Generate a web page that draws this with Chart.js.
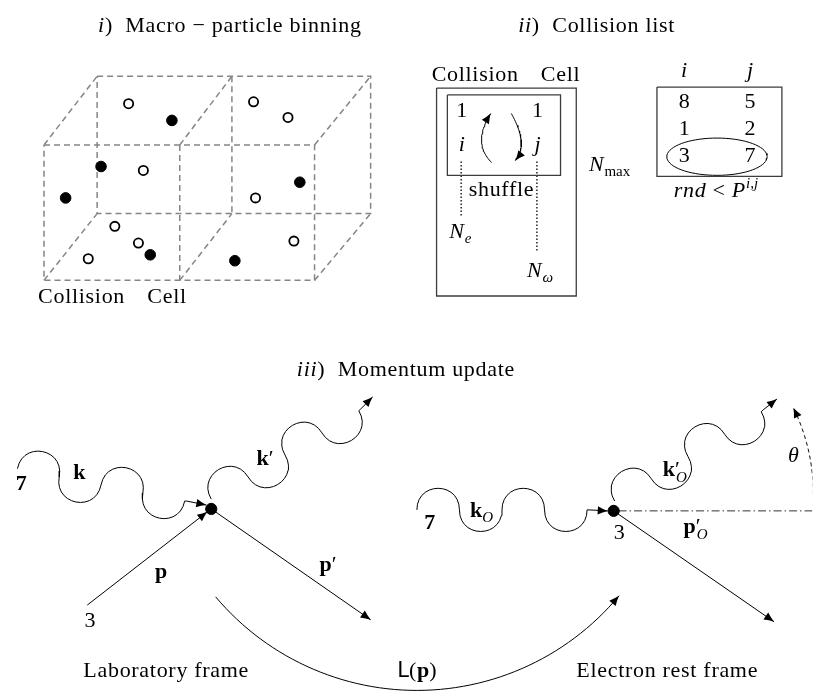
<!DOCTYPE html>
<html>
<head>
<meta charset="utf-8">
<script src="https://cdn.jsdelivr.net/npm/chart.js@4.4.0/dist/chart.umd.min.js"></script>
<style>
  html, body { margin: 0; padding: 0; background: #fff; }
  #wrap { width: 819px; height: 698px; }
</style>
</head>
<body>
<div id="wrap"><canvas id="diagram"></canvas></div>
<script>
// ---- panel i: macro-particle binning (cube of collision cells) ----
const cubeEdges = [
  [[38, 141], [313, 141], [313, 279], [38, 279], [38, 141]],
  [[176, 141], [176, 279]],
  [[92, 71], [370, 71], [370, 211], [92, 211], [92, 71]],
  [[229, 71], [229, 211]],
  [[38, 141], [92, 71]],
  [[176, 141], [229, 71]],
  [[313, 141], [370, 71]],
  [[38, 279], [92, 211]],
  [[176, 279], [229, 211]],
  [[313, 279], [370, 211]],
];
const openParticles = [[124, 99], [251, 97], [286, 113], [139, 167], [253, 195], [110, 224], [134, 241], [83, 257], [292, 239]];
const filledParticles = [[168, 116], [96, 163], [60, 195], [298, 179], [146, 253], [232, 259]];

// ---- panel ii: collision list ----
const cellBoxes = [
  [[437, 83], [579, 83], [579, 295], [437, 295], [437, 83]],
  [[448, 90], [563, 90], [563, 172], [448, 172], [448, 90]],
  [[661, 82], [788, 82], [788, 173], [661, 173], [661, 82]],
];
const indexLines = [
  [[462, 158], [462, 213]],
  [[539, 158], [539, 250]],
];
// quadratic curves: start, control, end (arrow at end)
const shuffleArrows = [
  [[493, 159], [473, 139], [492, 109]],
  [[513, 109], [531, 141], [517, 157]],
];
const pairEllipse = { centre: [722, 153], rx: 51, ry: 19 };
const listI = ["8", "1", "3"];
const listJ = ["5", "2", "7"];

// ---- panel iii: momentum update ----
const vertices = [[208, 512], [617, 514]];
const electronLines = [
  [[82, 610], [204, 515]],
  [[208, 512], [370, 625]],
  [[617, 514], [780, 627]],
];
const photonWaves = [
  { from: [11, 471], to: [181, 504], cycles: 2, amp: 22, tail: [[183, 504], [203, 508]] },
  { from: [208, 502], to: [358, 412], cycles: 2, amp: 22, tail: [[360, 410], [372, 398]] },
  { from: [417, 513], to: [590, 513], cycles: 2, amp: 22, tail: [[592, 513], [611, 514]] },
  { from: [618, 504], to: [767, 413], cycles: 2, amp: 22, tail: [[769, 411], [783, 400]] },
];
const restAxis = [[622, 514], [819, 514]];
// circular arcs: centre, radius, start angle, end angle (degrees, arrow at end)
const boostArc = { centre: [417, 430], r: 267, from: 140, to: 39.7 };
const thetaArc = { centre: [619, 497], r: 201, from: 0, to: -26 };

// ---- texts: x, baseline y, align, runs ----
const labels = [
  [93, 26, "left", [["i", "it"], [")  Macro − particle binning", "rm"]]],
  [32, 302, "left", [["Collision", "rm"]]],
  [143, 302, "left", [["Cell", "rm"]]],
  [520, 26, "left", [["ii", "it"], [")  Collision list", "rm"]]],
  [432, 76, "left", [["Collision", "rm"]]],
  [543, 76, "left", [["Cell", "rm"]]],
  [463, 113, "center", [["1", "rm"]]],
  [540, 113, "center", [["1", "rm"]]],
  [463, 147, "center", [["i", "it"]]],
  [540, 147, "center", [["j", "it"]]],
  [503, 193, "center", [["shuffle", "rm"]]],
  [450, 236, "left", [["N", "it"], ["e", "subit"]]],
  [529, 276, "left", [["N", "it"], ["ω", "subit"]]],
  [592, 168, "left", [["N", "it"], ["max", "sub"]]],
  [689, 72, "center", [["i", "it"]]],
  [756, 72, "center", [["j", "it"]]],
  [678, 194, "left", [["rnd", "it"], [" < ", "rm"], ["P", "it"], ["i,j", "supit"]]],
  [295, 377, "left", [["iii", "it"], [")  Momentum update", "rm"]]],
  [15, 493, "center", [["7", "bf"]]],
  [74, 482, "center", [["k", "bf"]]],
  [263, 467, "center", [["k", "bf"], ["′", "rm"]]],
  [157, 582, "center", [["p", "bf"]]],
  [327, 575, "center", [["p", "bf"], ["′", "rm"]]],
  [85, 632, "center", [["3", "rm"]]],
  [78, 683, "left", [["Laboratory frame", "rm"]]],
  [397, 683, "left", [["L", "sf"], ["(", "rm"], ["p", "bf"], [")", "rm"]]],
  [430, 532, "center", [["7", "bf"]]],
  [471, 520, "left", [["k", "bf"], ["O", "subit"]]],
  [623, 543, "center", [["3", "rm"]]],
  [688, 537, "left", [["p", "bf"], ["′", "rm"], ["O", "subunder"]]],
  [667, 478, "left", [["k", "bf"], ["′", "rm"], ["O", "subunder"]]],
  [800, 464, "center", [["θ", "it"]]],
  [579, 683, "left", [["Electron rest frame", "rm"]]],
];
listI.forEach((v, r) => labels.push([689, 103 + r * 27.5, "center", [[v, "rm"]]]));
listJ.forEach((v, r) => labels.push([756, 103 + r * 27.5, "center", [[v, "rm"]]]));

const fonts = {
  rm: '22px "Liberation Serif"',
  it: 'italic 22px "Liberation Serif"',
  bf: 'bold 22px "Liberation Serif"',
  sf: '21px "DejaVu Sans"',
  sub: '15px "Liberation Serif"',
  subit: 'italic 15px "Liberation Serif"',
  subunder: 'italic 15px "Liberation Serif"',
  supit: 'italic 15px "Liberation Serif"',
};
const shifts = { sub: 5, subit: 5, subunder: 6, supit: -9 };
const spacing = { rm: "0.7px", it: "0.7px" };

function quadPoints(p0, c, p2) {
  let out = [];
  for (let k = 0; k <= 30; k++) {
    let t = k / 30, m = 1 - t;
    out.push([m * m * p0[0] + 2 * m * t * c[0] + t * t * p2[0], m * m * p0[1] + 2 * m * t * c[1] + t * t * p2[1]]);
  }
  return out;
}

function arcPoints(arc) {
  let out = [];
  for (let k = 0; k <= 60; k++) {
    let a = (arc.from + (arc.to - arc.from) * k / 60) * Math.PI / 180;
    out.push([arc.centre[0] + arc.r * Math.cos(a), arc.centre[1] + arc.r * Math.sin(a)]);
  }
  return out;
}

function ellipsePoints(e) {
  let out = [];
  for (let k = 0; k <= 72; k++) {
    let a = k / 72 * 2 * Math.PI;
    out.push([e.centre[0] + e.rx * Math.cos(a), e.centre[1] + e.ry * Math.sin(a)]);
  }
  return out;
}

// photon line drawn as a snake of half-wave humps along the axis
function snakePoints(wave) {
  let [x0, y0] = wave.from, [x1, y1] = wave.to;
  let len = Math.hypot(x1 - x0, y1 - y0);
  let ux = (x1 - x0) / len, uy = (y1 - y0) / len;
  let nx = uy, ny = -ux;
  let halves = wave.cycles * 2, h = len / halves, c = wave.amp * 4 / 3;
  let out = [[x0, y0]];
  for (let i = 0; i < halves; i++) {
    let s = i % 2 === 0 ? 1 : -1;
    let p = [[i * h, 0], [i * h, s * c], [(i + 1) * h, s * c], [(i + 1) * h, 0]];
    for (let k = 1; k <= 14; k++) {
      let t = k / 14, m = 1 - t;
      let al = m * m * m * p[0][0] + 3 * m * m * t * p[1][0] + 3 * m * t * t * p[2][0] + t * t * t * p[3][0];
      let ac = 3 * m * m * t * p[1][1] + 3 * m * t * t * p[2][1];
      out.push([x0 + ux * al + nx * ac, y0 + uy * al + ny * ac]);
    }
  }
  return out.concat(wave.tail);
}

function line(points, opts = {}) {
  return {
    type: "scatter",
    data: points.map(([x, y]) => ({ x, y })),
    showLine: true,
    borderColor: opts.color || "#000",
    borderWidth: opts.width || 1,
    borderDash: opts.dash || [],
    pointRadius: 0,
    fill: false,
    arrow: opts.arrow || false,
  };
}

function dots(points, filled, radius) {
  return {
    type: "scatter",
    data: points.map(([x, y]) => ({ x, y })),
    showLine: false,
    pointRadius: radius,
    pointBackgroundColor: filled ? "#000" : "#fff",
    pointBorderColor: "#000",
    pointBorderWidth: filled ? 1 : 1.8,
  };
}

let datasets = [];
datasets.push(dots(openParticles, false, 4.6));
datasets.push(dots(filledParticles, true, 5.3));
datasets.push(dots(vertices, true, 5.6));
cubeEdges.forEach((e) => datasets.push(line(e, { color: "#858585", width: 1.5, dash: [6, 4] })));
cellBoxes.forEach((b) => datasets.push(line(b, { color: "#3c3c3c", width: 1.3 })));
indexLines.forEach((l) => datasets.push(line(l, { width: 1.3, dash: [1.3, 2.2] })));
shuffleArrows.forEach((q) => datasets.push(line(quadPoints(q[0], q[1], q[2]), { arrow: true })));
datasets.push(line(ellipsePoints(pairEllipse)));
electronLines.forEach((l) => datasets.push(line(l, { arrow: true })));
photonWaves.forEach((w) => datasets.push(line(snakePoints(w), { arrow: true })));
datasets.push(line(restAxis, { color: "#333", dash: [8, 3, 1.5, 3] }));
datasets.push(line(arcPoints(boostArc), { arrow: true }));
datasets.push(line(arcPoints(thetaArc), { arrow: true, dash: [4, 3] }));

const diagramExtras = {
  id: "diagramExtras",
  afterDatasetsDraw(chart) {
    let ctx = chart.ctx;
    let sx = chart.scales.x, sy = chart.scales.y;
    ctx.save();
    ctx.fillStyle = "#000";
    chart.data.datasets.forEach((ds) => {
      if (!ds.arrow) return;
      let n = ds.data.length;
      let tx = sx.getPixelForValue(ds.data[n - 1].x), ty = sy.getPixelForValue(ds.data[n - 1].y);
      let fx = sx.getPixelForValue(ds.data[n - 2].x), fy = sy.getPixelForValue(ds.data[n - 2].y);
      let a = Math.atan2(ty - fy, tx - fx);
      ctx.save();
      ctx.translate(tx, ty);
      ctx.rotate(a);
      ctx.beginPath();
      ctx.moveTo(0, 0);
      ctx.quadraticCurveTo(-5, -1.5, -10, -4.2);
      ctx.lineTo(-10, 4.2);
      ctx.quadraticCurveTo(-5, 1.5, 0, 0);
      ctx.fill();
      ctx.restore();
    });
    ctx.textBaseline = "alphabetic";
    ctx.textAlign = "left";
    const setFont = (s) => {
      ctx.font = fonts[s];
      ctx.letterSpacing = spacing[s] || "0px";
    };
    labels.forEach(([x, y, align, runs]) => {
      let px = sx.getPixelForValue(x), py = sy.getPixelForValue(y);
      let widths = runs.map(([t, s]) => {
        setFont(s);
        return s === "subunder" ? 0 : ctx.measureText(t).width;
      });
      let total = widths.reduce((acc, w) => acc + w, 0);
      let cx = align === "center" ? px - total / 2 : px;
      let prevX = cx;
      runs.forEach(([t, s], i) => {
        setFont(s);
        let drawX = s === "subunder" ? prevX + 1 : cx;
        ctx.fillText(t, drawX, py + (shifts[s] || 0));
        prevX = cx;
        cx += widths[i];
      });
    });
    ctx.restore();
  },
};

new Chart(document.getElementById("diagram"), {
  type: "scatter",
  data: { datasets },
  options: {
    responsive: true,
    maintainAspectRatio: false,
    animation: false,
    layout: { padding: 0 },
    plugins: { legend: { display: false }, tooltip: { enabled: false } },
    scales: {
      x: { type: "linear", min: 0, max: 819, display: false },
      y: { type: "linear", min: 0, max: 698, reverse: true, display: false },
    },
  },
  plugins: [diagramExtras],
});
</script>
</body>
</html>
